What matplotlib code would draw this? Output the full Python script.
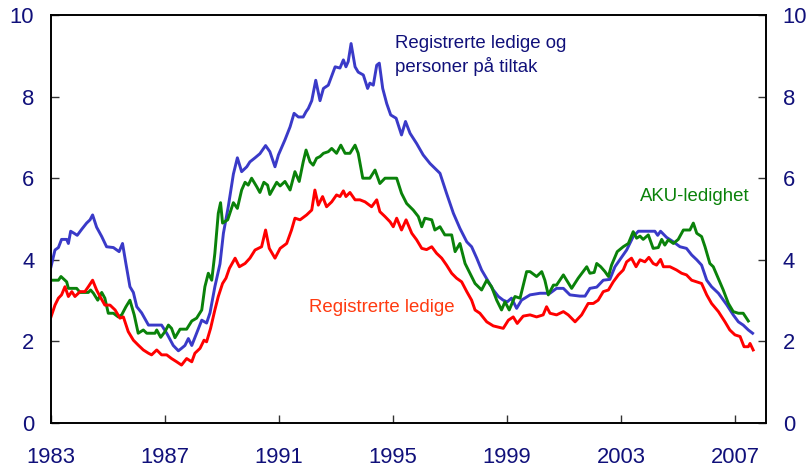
import matplotlib
matplotlib.use("Agg")
import matplotlib.pyplot as plt

plt.rcParams['font.family'] = ['Liberation Sans', 'DejaVu Sans']

# Registrerte ledige og personer på tiltak (blue)
blue_t = [1983.00, 1983.14, 1983.26, 1983.37, 1983.55, 1983.61, 1983.69, 1983.81, 1983.92, 1984.08,
          1984.25, 1984.37, 1984.46, 1984.60, 1984.78, 1984.95, 1985.19, 1985.39, 1985.51, 1985.63,
          1985.77, 1985.89, 1986.01, 1986.18, 1986.42, 1986.71, 1986.88, 1987.06, 1987.29, 1987.47,
          1987.58, 1987.70, 1987.82, 1987.94, 1988.11, 1988.29, 1988.46, 1988.58, 1988.75, 1988.93,
          1989.05, 1989.22, 1989.40, 1989.54, 1989.69, 1989.87, 1989.98, 1990.16, 1990.33, 1990.53,
          1990.68, 1990.86, 1990.98, 1991.21, 1991.39, 1991.53, 1991.68, 1991.85, 1991.95, 1992.03,
          1992.15, 1992.29, 1992.44, 1992.56, 1992.73, 1992.97, 1993.14, 1993.26, 1993.35, 1993.43,
          1993.53, 1993.67, 1993.78, 1993.96, 1994.11, 1994.19, 1994.31, 1994.43, 1994.52, 1994.64,
          1994.78, 1994.92, 1995.11, 1995.30, 1995.44, 1995.60, 1995.83, 1996.06, 1996.30, 1996.53,
          1996.65, 1996.88, 1997.12, 1997.35, 1997.59, 1997.76, 1997.94, 1998.11, 1998.35, 1998.52,
          1998.70, 1998.87, 1999.01, 1999.16, 1999.34, 1999.51, 1999.81, 2000.16, 2000.51, 2000.74,
          2000.98, 2001.21, 2001.56, 2001.74, 2001.91, 2002.15, 2002.38, 2002.61, 2002.79, 2002.96,
          2003.20, 2003.43, 2003.61, 2003.90, 2004.19, 2004.29, 2004.39, 2004.60, 2004.84, 2005.07,
          2005.30, 2005.48, 2005.66, 2005.83, 2006.01, 2006.18, 2006.42, 2006.71, 2006.94, 2007.12,
          2007.29, 2007.47, 2007.62]
blue_v = [3.83, 4.24, 4.30, 4.50, 4.50, 4.40, 4.70, 4.65, 4.60, 4.75,
          4.90, 4.98, 5.10, 4.80, 4.57, 4.32, 4.30, 4.20, 4.40, 3.90,
          3.34, 3.20, 2.85, 2.70, 2.40, 2.40, 2.40, 2.20, 1.90, 1.77,
          1.83, 1.90, 2.07, 1.90, 2.20, 2.52, 2.45, 2.70, 3.34, 3.90,
          4.65, 5.30, 6.10, 6.50, 6.16, 6.28, 6.40, 6.50, 6.60, 6.80,
          6.65, 6.28, 6.57, 6.94, 7.26, 7.59, 7.50, 7.50, 7.63, 7.71,
          7.90, 8.40, 7.90, 8.20, 8.28, 8.73, 8.70, 8.90, 8.73, 8.86,
          9.30, 8.73, 8.60, 8.53, 8.20, 8.33, 8.28, 8.77, 8.82, 8.20,
          7.83, 7.55, 7.47, 7.06, 7.39, 7.10, 6.85, 6.57, 6.36, 6.20,
          6.12, 5.63, 5.14, 4.77, 4.44, 4.32, 4.04, 3.75, 3.46, 3.26,
          3.10, 3.01, 2.97, 3.06, 2.81, 3.01, 3.14, 3.18, 3.18, 3.30,
          3.30, 3.14, 3.11, 3.11, 3.30, 3.33, 3.50, 3.52, 3.83, 4.00,
          4.24, 4.57, 4.70, 4.70, 4.70, 4.60, 4.70, 4.55, 4.44, 4.32,
          4.28, 4.12, 4.00, 3.87, 3.50, 3.34, 3.18, 2.90, 2.65, 2.48,
          2.40, 2.28, 2.20]

# AKU-ledighet (green)
green_t = [1983.00, 1983.26, 1983.35, 1983.49, 1983.55, 1983.61, 1983.90, 1984.02, 1984.31, 1984.39,
           1984.49, 1984.64, 1984.78, 1984.89, 1985.01, 1985.19, 1985.36, 1985.48, 1985.63, 1985.77,
           1985.92, 1986.06, 1986.24, 1986.36, 1986.65, 1986.71, 1986.85, 1987.00, 1987.12, 1987.23,
           1987.35, 1987.53, 1987.76, 1987.94, 1988.11, 1988.29, 1988.40, 1988.52, 1988.64, 1988.75,
           1988.87, 1988.95, 1989.02, 1989.20, 1989.40, 1989.54, 1989.69, 1989.81, 1989.92, 1990.04,
           1990.22, 1990.33, 1990.47, 1990.60, 1990.68, 1990.92, 1991.04, 1991.21, 1991.39, 1991.56,
           1991.71, 1991.85, 1991.95, 1992.09, 1992.20, 1992.32, 1992.44, 1992.56, 1992.73, 1992.85,
           1993.02, 1993.17, 1993.32, 1993.49, 1993.67, 1993.78, 1993.94, 1994.19, 1994.37, 1994.54,
           1994.72, 1995.13, 1995.30, 1995.48, 1995.71, 1995.89, 1996.01, 1996.12, 1996.36, 1996.47,
           1996.65, 1996.82, 1997.06, 1997.18, 1997.35, 1997.53, 1997.70, 1997.88, 1998.11, 1998.29,
           1998.46, 1998.64, 1998.81, 1998.93, 1999.08, 1999.28, 1999.46, 1999.69, 1999.81, 2000.04,
           2000.22, 2000.33, 2000.45, 2000.63, 2000.74, 2000.98, 2001.27, 2001.50, 2001.80, 2001.91,
           2002.06, 2002.15, 2002.29, 2002.44, 2002.56, 2002.67, 2002.87, 2003.08, 2003.26, 2003.43,
           2003.55, 2003.67, 2003.78, 2003.96, 2004.13, 2004.31, 2004.43, 2004.54, 2004.66, 2004.84,
           2005.01, 2005.19, 2005.42, 2005.54, 2005.66, 2005.83, 2005.95, 2006.12, 2006.24, 2006.41,
           2006.59, 2006.77, 2006.94, 2007.12, 2007.29, 2007.47]
green_v = [3.50, 3.50, 3.59, 3.50, 3.46, 3.30, 3.30, 3.20, 3.20, 3.26,
           3.18, 3.01, 3.20, 3.06, 2.69, 2.69, 2.60, 2.65, 2.85, 3.01,
           2.65, 2.20, 2.28, 2.20, 2.20, 2.28, 2.10, 2.24, 2.40, 2.32,
           2.09, 2.30, 2.30, 2.50, 2.57, 2.77, 3.34, 3.67, 3.50, 4.16,
           5.14, 5.40, 4.90, 4.98, 5.40, 5.26, 5.71, 5.90, 5.83, 6.00,
           5.79, 5.65, 5.90, 5.83, 5.60, 5.90, 5.81, 5.92, 5.71, 6.16,
           5.92, 6.40, 6.69, 6.40, 6.32, 6.49, 6.53, 6.61, 6.65, 6.73,
           6.61, 6.81, 6.61, 6.61, 6.81, 6.61, 6.00, 6.00, 6.20, 5.87,
           6.00, 6.00, 5.63, 5.38, 5.22, 5.06, 4.81, 5.02, 4.98, 4.73,
           4.81, 4.61, 4.61, 4.20, 4.40, 3.91, 3.67, 3.42, 3.26, 3.50,
           3.34, 3.01, 2.77, 2.97, 2.77, 3.10, 3.06, 3.71, 3.71, 3.59,
           3.71, 3.50, 3.14, 3.38, 3.38, 3.63, 3.30, 3.55, 3.83, 3.67,
           3.69, 3.91, 3.83, 3.71, 3.59, 3.87, 4.20, 4.32, 4.40, 4.69,
           4.53, 4.58, 4.50, 4.61, 4.28, 4.30, 4.50, 4.36, 4.49, 4.40,
           4.50, 4.73, 4.73, 4.90, 4.65, 4.57, 4.32, 3.91, 3.83, 3.55,
           3.26, 2.93, 2.73, 2.69, 2.69, 2.50]

# Registrerte ledige (red)
red_t = [1983.00, 1983.14, 1983.26, 1983.37, 1983.49, 1983.61, 1983.73, 1983.84, 1984.02, 1984.19,
         1984.31, 1984.46, 1984.60, 1984.72, 1984.89, 1985.07, 1985.25, 1985.42, 1985.54, 1985.71,
         1985.89, 1986.06, 1986.24, 1986.42, 1986.53, 1986.71, 1986.88, 1987.06, 1987.23, 1987.41,
         1987.58, 1987.76, 1987.94, 1988.05, 1988.23, 1988.37, 1988.46, 1988.60, 1988.75, 1988.87,
         1989.02, 1989.14, 1989.26, 1989.46, 1989.61, 1989.81, 1989.98, 1990.16, 1990.39, 1990.53,
         1990.66, 1990.86, 1991.04, 1991.27, 1991.44, 1991.56, 1991.74, 1991.97, 1992.15, 1992.26,
         1992.38, 1992.53, 1992.67, 1992.85, 1993.02, 1993.14, 1993.26, 1993.35, 1993.49, 1993.67,
         1993.84, 1994.02, 1994.25, 1994.43, 1994.54, 1994.72, 1994.90, 1995.01, 1995.13, 1995.30,
         1995.46, 1995.66, 1995.83, 1996.01, 1996.18, 1996.36, 1996.53, 1996.71, 1996.88, 1997.06,
         1997.23, 1997.41, 1997.59, 1997.76, 1997.88, 1998.05, 1998.29, 1998.52, 1998.75, 1998.87,
         1999.05, 1999.22, 1999.36, 1999.57, 1999.81, 2000.04, 2000.27, 2000.39, 2000.51, 2000.74,
         2000.98, 2001.15, 2001.39, 2001.62, 2001.85, 2002.03, 2002.20, 2002.38, 2002.56, 2002.73,
         2002.91, 2003.08, 2003.20, 2003.37, 2003.53, 2003.67, 2003.84, 2003.98, 2004.13, 2004.25,
         2004.39, 2004.49, 2004.72, 2004.95, 2005.13, 2005.30, 2005.48, 2005.66, 2005.83, 2006.01,
         2006.18, 2006.42, 2006.65, 2006.82, 2007.00, 2007.18, 2007.32, 2007.47, 2007.53, 2007.64]
red_v = [2.60, 2.89, 3.06, 3.14, 3.34, 3.10, 3.22, 3.10, 3.22, 3.22,
         3.34, 3.50, 3.26, 3.10, 2.89, 2.89, 2.77, 2.57, 2.60, 2.24,
         2.03, 1.91, 1.79, 1.71, 1.67, 1.79, 1.67, 1.67, 1.58, 1.50,
         1.42, 1.58, 1.50, 1.71, 1.83, 2.03, 1.99, 2.32, 2.77, 3.10,
         3.42, 3.55, 3.79, 4.04, 3.83, 3.91, 4.04, 4.24, 4.32, 4.73,
         4.28, 4.04, 4.28, 4.40, 4.73, 5.02, 4.98, 5.10, 5.22, 5.71,
         5.34, 5.55, 5.30, 5.42, 5.59, 5.55, 5.69, 5.55, 5.65, 5.47,
         5.47, 5.42, 5.30, 5.47, 5.18, 5.06, 4.93, 4.81, 5.02, 4.73,
         4.98, 4.65, 4.49, 4.28, 4.25, 4.32, 4.16, 4.04, 3.87, 3.67,
         3.55, 3.46, 3.22, 3.01, 2.77, 2.69, 2.48, 2.38, 2.34, 2.32,
         2.52, 2.60, 2.44, 2.62, 2.65, 2.60, 2.65, 2.85, 2.69, 2.65,
         2.73, 2.65, 2.48, 2.65, 2.93, 2.93, 3.01, 3.22, 3.26, 3.46,
         3.63, 3.75, 3.95, 4.04, 3.83, 4.00, 3.95, 4.06, 3.91, 3.87,
         4.01, 3.83, 3.83, 3.75, 3.67, 3.63, 3.50, 3.46, 3.42, 3.14,
         2.93, 2.73, 2.48, 2.28, 2.16, 2.12, 1.87, 1.87, 1.95, 1.79]

x_ticks = [1983, 1987, 1991, 1995, 1999, 2003, 2007]
y_ticks = [0, 2, 4, 6, 8, 10]

label_blue = ["Registrerte ledige og", "personer på tiltak"]
label_green = "AKU-ledighet"
label_red = "Registrerte ledige"

navy = '#10107a'
c_blue = '#3a3ac8'
c_green = '#0a820a'
c_red = '#ff0000'

fig = plt.figure(figsize=(8.12, 4.75), dpi=100)
ax = fig.add_axes([51/812, 1 - 423/475, (766 - 51)/812, (423 - 15)/475])

ax.plot(blue_t, blue_v, color=c_blue, lw=2.1, solid_joinstyle='round')
ax.plot(green_t, green_v, color=c_green, lw=2.1, solid_joinstyle='round')
ax.plot(red_t, red_v, color=c_red, lw=2.1, solid_joinstyle='round')

ax.set_xlim(1983, 2008.09)
ax.set_ylim(0, 10)
ax.set_xticks(x_ticks)
ax.set_xticklabels([str(x) for x in x_ticks])
ax.set_yticks(y_ticks)

ax.tick_params(axis='x', direction='in', length=6, width=1, pad=17,
               labelsize=15.8, labelcolor=navy, color='#333333')
ax.tick_params(axis='y', direction='in', length=6, width=1, pad=12,
               labelsize=15.8, labelcolor=navy, color='#333333')
for s in ax.spines.values():
    s.set_linewidth(1.2)
    s.set_color('black')

ax2 = ax.twinx()
ax2.set_ylim(0, 10)
ax2.set_yticks(y_ticks)
ax2.tick_params(axis='y', direction='in', length=6, width=1, pad=12,
                labelsize=15.8, labelcolor=navy, color='#333333')
for s in ax2.spines.values():
    s.set_linewidth(1.2)

ax.text(1995.07, 9.31, label_blue[0], color=navy, fontsize=13.4,
        ha='left', va='center')
ax.text(1995.07, 8.73, label_blue[1], color=navy, fontsize=13.4,
        ha='left', va='center')
ax.text(2003.67, 5.54, label_green, color=c_green, fontsize=13.4,
        ha='left', va='center')
ax.text(1992.05, 2.82, label_red, color='#ff3a10', fontsize=13.4,
        ha='left', va='center')

fig.savefig("out.png", dpi=100)
